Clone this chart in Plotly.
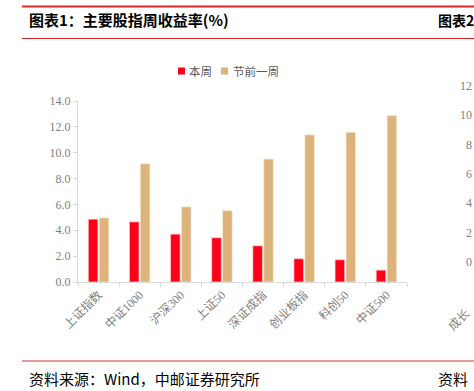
import plotly.graph_objects as go

categories = ["上证指数", "中证1000", "沪深300", "上证50", "深证成指", "创业板指", "科创50", "中证500"]
this_week = [4.86, 4.65, 3.70, 3.42, 2.80, 1.80, 1.72, 0.92]
pre_holiday_week = [4.96, 9.15, 5.81, 5.52, 9.51, 11.38, 11.59, 12.87]
series_names = ["本周", "节前一周"]
y_ticks = [0, 2, 4, 6, 8, 10, 12, 14]
right_ticks = ["12", "10", "8", "6", "4", "2", "0"]

W, H = 474, 391
L, R, T, B = 78, 407, 101, 282

def X(px):
    return (px - L) / (R - L)

def Y(py):
    return (B - py) / (B - T)

RED = "#FF0019"
TAN = "#DBB37B"
SERIF = "Liberation Serif, Times New Roman, Noto Sans CJK SC, serif"
CJK = "Noto Sans CJK SC, sans-serif"

fig = go.Figure()
fig.add_bar(x=categories, y=this_week, name=series_names[0],
            marker=dict(color=RED, line=dict(color="rgba(255,200,200,0.9)", width=0.8)))
fig.add_bar(x=categories, y=pre_holiday_week, name=series_names[1],
            marker=dict(color=TAN, line=dict(color="rgba(250,235,210,0.9)", width=0.8)))

fig.update_layout(
    width=W, height=H,
    margin=dict(l=L, r=W - R, t=T, b=H - B, pad=0),
    paper_bgcolor="white", plot_bgcolor="white",
    barmode="group", bargap=0.47, bargroupgap=0.12,
    showlegend=False,
    font=dict(family=SERIF, color="#7F7F7F", size=12),
)
fig.update_yaxes(range=[0, 14], tickvals=y_ticks, tickformat=".1f",
                 showgrid=False, zeroline=False, showline=True, linecolor="#D9D9D9", linewidth=1,
                 ticks="outside", ticklen=4, tickcolor="#D9D9D9",
                 tickfont=dict(family=SERIF, size=12, color="#7F7F7F"))
fig.update_xaxes(showgrid=False, showline=True, linecolor="#D9D9D9", linewidth=1,
                 ticks="outside", ticklen=4, tickcolor="#D9D9D9", tickson="boundaries",
                 tickangle=-45, tickfont=dict(family=SERIF, size=12, color="#7F7F7F"))

shapes = []
def hline(py, x0, x1, color, w):
    shapes.append(dict(type="line", xref="paper", yref="paper", x0=X(x0), x1=X(x1),
                       y0=Y(py), y1=Y(py), line=dict(color=color, width=w)))
hline(6.5, 22, 474, "#D7262C", 2.2)
hline(38.5, 22, 474, "#D7262C", 1)
hline(361, 22, 474, "#C0392B", 1)
# legend squares
for cx, col in [(181.5, RED), (224.5, TAN)]:
    shapes.append(dict(type="rect", xref="paper", yref="paper",
                       x0=X(cx - 3.5), x1=X(cx + 3.5), y0=Y(74.5), y1=Y(67.5),
                       fillcolor=col, line=dict(width=0)))
fig.update_layout(shapes=shapes)

ann = []
def text(px, py, s, size, color, family=CJK, xanchor="left", bold=False, angle=0):
    ann.append(dict(xref="paper", yref="paper", x=X(px), y=Y(py), text=("<b>%s</b>" % s if bold else s),
                    showarrow=False, xanchor=xanchor, yanchor="middle", textangle=angle,
                    font=dict(family=family, size=size, color=color)))
text(27, 20, "图表1：主要股指周收益率(%)", 15, "#000000", bold=True)
text(436, 20, "图表2", 14, "#000000", bold=True)
text(27, 378, "资料来源：Wind，中邮证券研究所", 15, "#000000")
text(436, 378, "资料", 15, "#000000")
text(187, 71, series_names[0], 11.5, "#595959")
text(231, 71, series_names[1], 11.5, "#595959")
for i, t in enumerate(right_ticks):
    text(474, 86 + i * 29.3, t, 12, "#7F7F7F", family=SERIF, xanchor="right")
text(459, 320, "成长", 12, "#7F7F7F", family=SERIF, xanchor="center", angle=-45)
fig.update_layout(annotations=ann)

fig.write_html("out.html", config={"displayModeBar": False},
               post_script="document.body.style.margin='0';document.body.style.overflow='hidden';")
